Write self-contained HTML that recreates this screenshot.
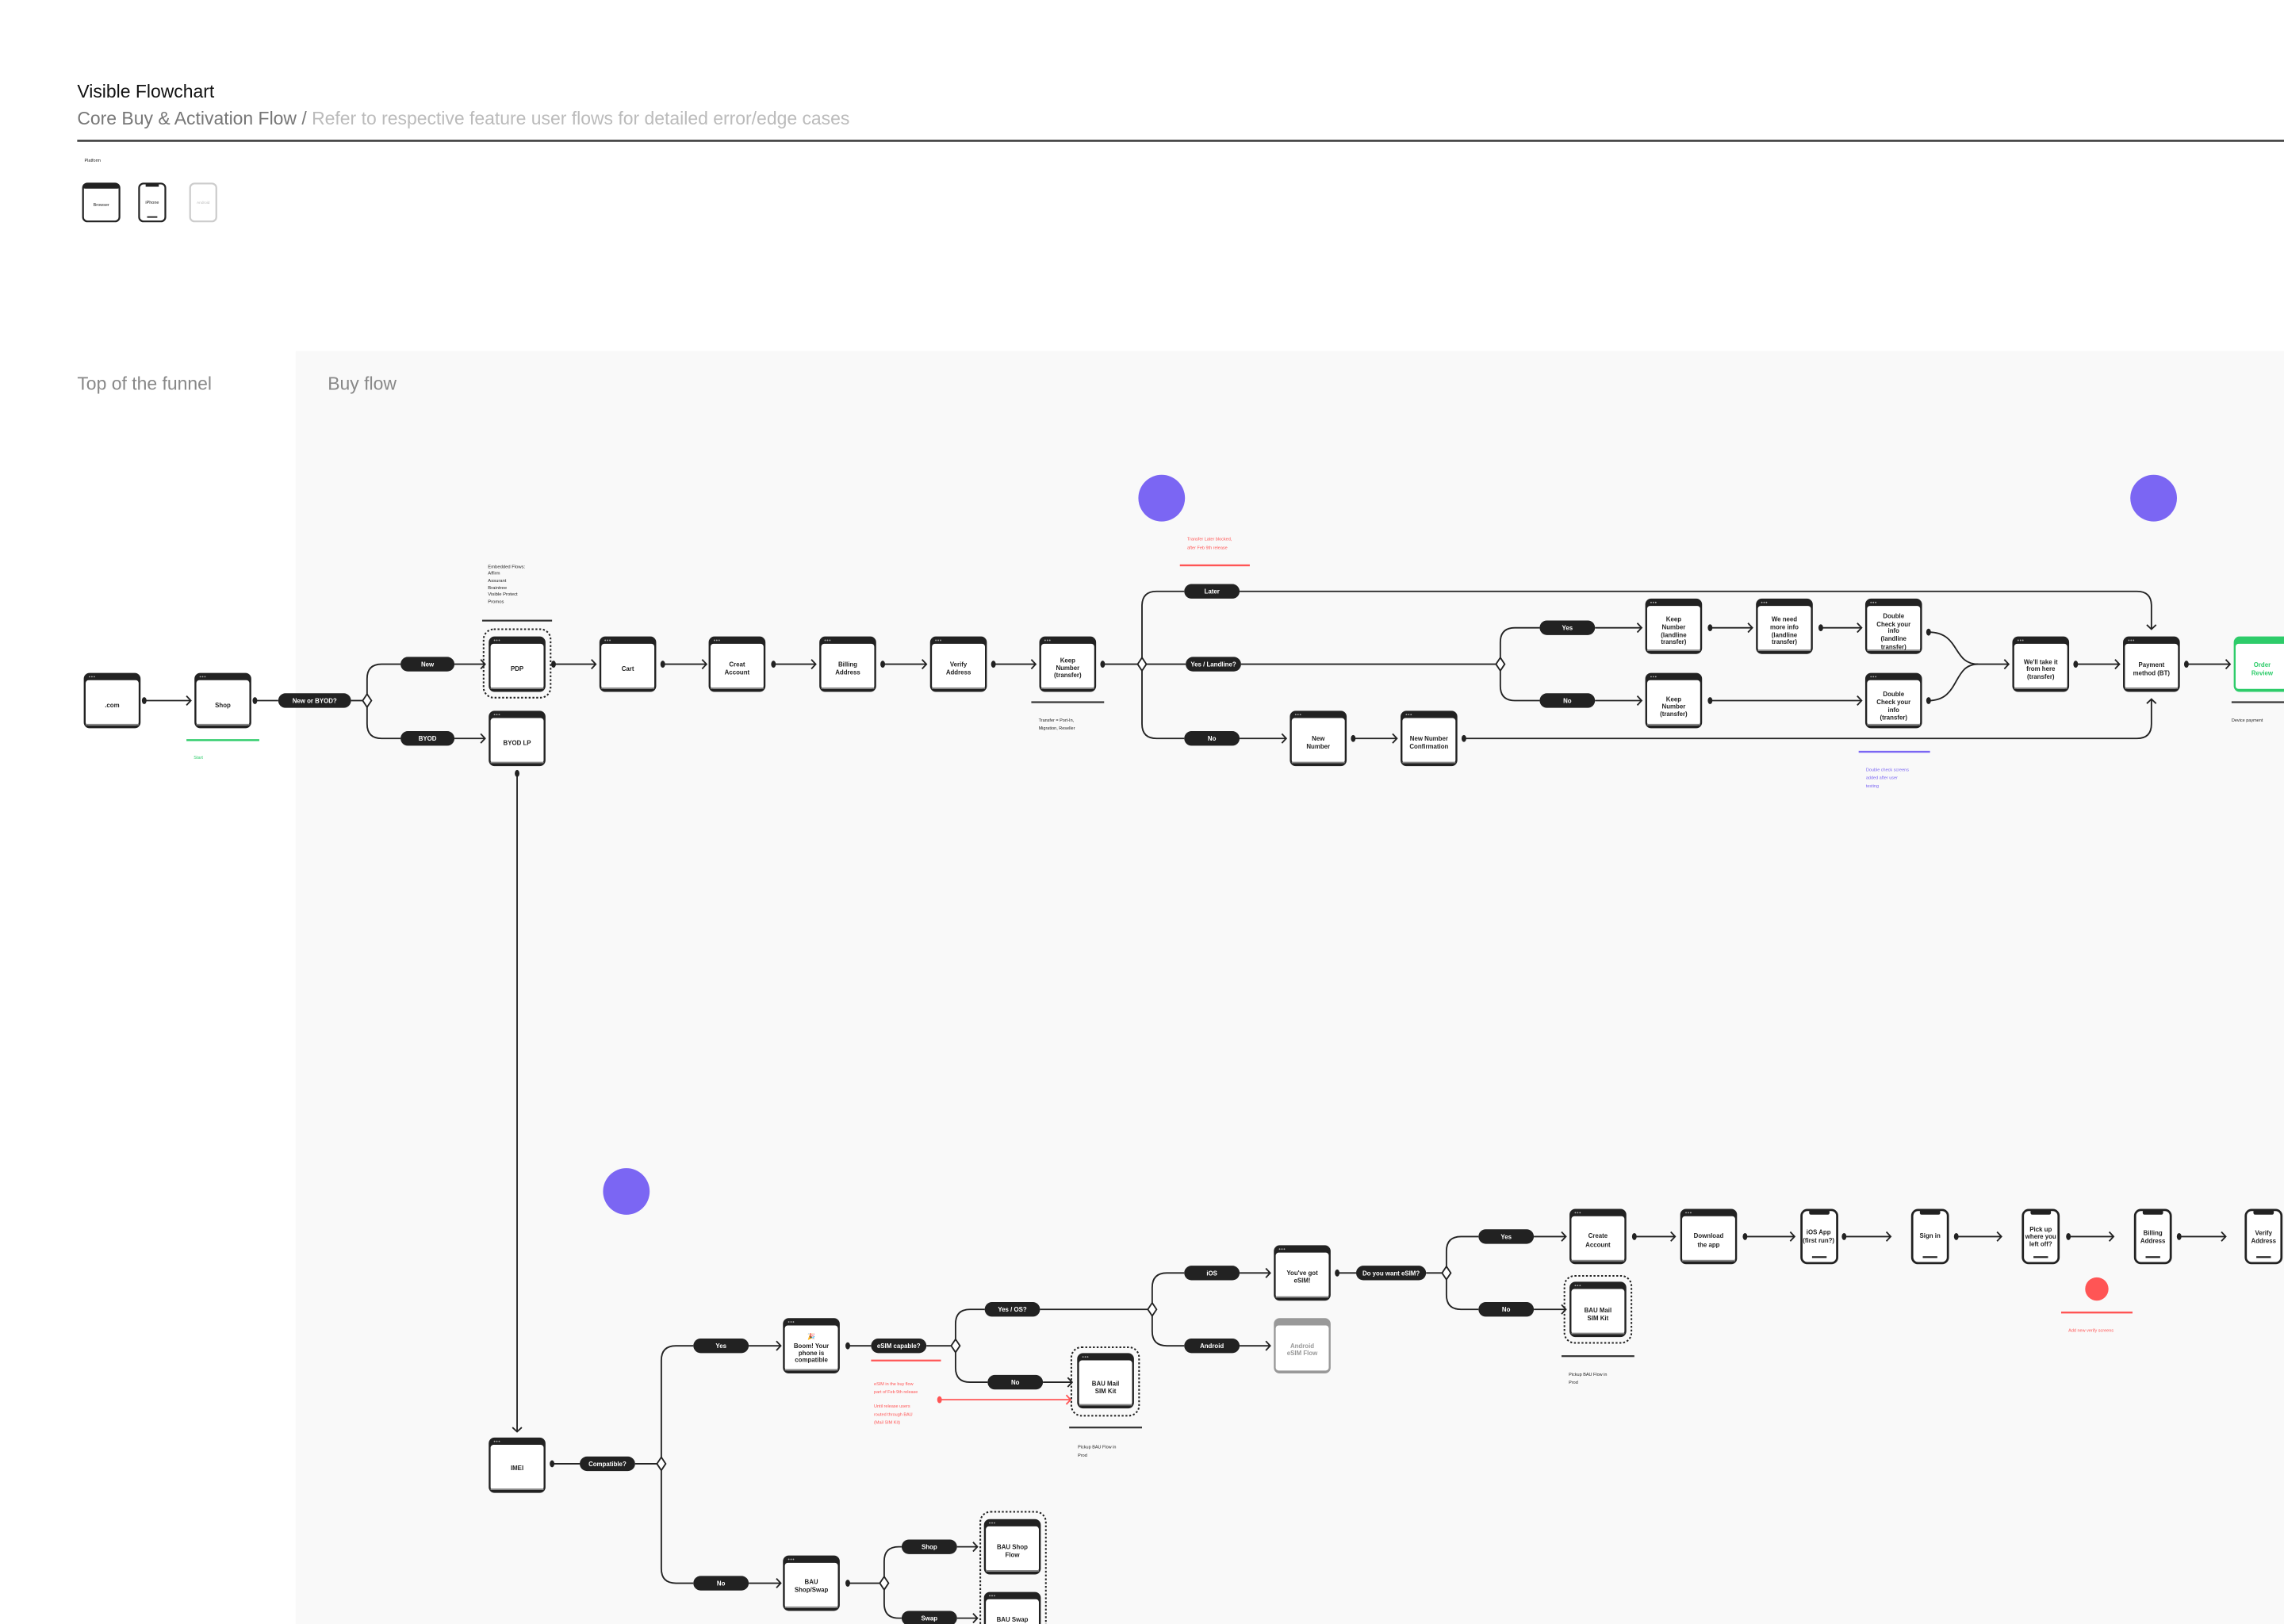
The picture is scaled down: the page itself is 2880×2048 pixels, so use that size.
<!DOCTYPE html>
<html><head><meta charset="utf-8"><style>
html,body{margin:0;padding:0;background:#fff}
svg{display:block}
text{font-family:"Liberation Sans",sans-serif}
.nl{font-size:4.3px;font-weight:700;fill:#222;text-anchor:middle}
.pl{font-size:4.3px;font-weight:700;fill:#fff;text-anchor:middle}
.c{fill:none;stroke:#222;stroke-width:1}
.an{font-size:3.2px;fill:#222}
</style></head><body>
<svg width="2880" height="2048" viewBox="0 0 1568 1115" xmlns="http://www.w3.org/2000/svg">
<defs>
<marker id="ar" markerUnits="userSpaceOnUse" markerWidth="8" markerHeight="8" refX="4" refY="4" orient="auto"><path d="M1,0.8 L4,4 L1,7.2" fill="none" stroke="#222" stroke-width="1"/></marker>
<marker id="arr" markerUnits="userSpaceOnUse" markerWidth="8" markerHeight="8" refX="4" refY="4" orient="auto"><path d="M1,0.8 L4,4 L1,7.2" fill="none" stroke="#f55" stroke-width="1"/></marker>
<marker id="dt" markerUnits="userSpaceOnUse" markerWidth="6" markerHeight="6" refX="3" refY="3"><ellipse cx="3" cy="3" rx="1.6" ry="2.4" fill="#222"/></marker>
<marker id="dtr" markerUnits="userSpaceOnUse" markerWidth="6" markerHeight="6" refX="3" refY="3"><ellipse cx="3" cy="3" rx="1.6" ry="2.4" fill="#f55"/></marker>
<g id="nd"><rect x="0" y="0" width="39" height="38" rx="4" fill="#222"/><rect x="1.3" y="5" width="36.4" height="31" rx="2" fill="#fff"/><rect x="1.3" y="35" width="36.4" height="1" fill="#888"/><circle cx="4" cy="2.6" r="0.5" fill="#aaa"/><circle cx="5.6" cy="2.6" r="0.5" fill="#aaa"/><circle cx="7.2" cy="2.6" r="0.5" fill="#aaa"/></g>
<g id="ph"><rect x="0.75" y="0.75" width="24.5" height="36.5" rx="4" fill="#fff" stroke="#222" stroke-width="1.5"/><rect x="6" y="0.75" width="14" height="3.2" rx="1.2" fill="#222"/><rect x="8" y="32.5" width="10" height="1.2" fill="#222"/></g>
<g id="dm"><path d="M0,-4.5 L3,0 L0,4.5 L-3,0 Z" fill="#fff" stroke="#222" stroke-width="1"/></g>
</defs>
<rect width="1568" height="1115" fill="#fff"/>
<rect x="203" y="241" width="1365" height="874" fill="#f9f9f9"/>

<text x="53" y="67" font-size="12.5" font-weight="500" fill="#111">Visible Flowchart</text>
<text x="53" y="85.5" font-size="12.5" fill="#777">Core Buy &amp; Activation Flow / <tspan fill="#bbb">Refer to respective feature user flows for detailed error/edge cases</tspan></text>
<rect x="53" y="96" width="1515" height="1.3" fill="#333"/>
<text x="58" y="111" font-size="3" fill="#222">Platform</text>
<rect x="57" y="126" width="25" height="26" rx="3" fill="#fff" stroke="#222" stroke-width="1.2"/><rect x="57" y="126" width="25" height="3.5" rx="1.5" fill="#222"/>
<text x="69.5" y="141.5" font-size="3" fill="#222" text-anchor="middle">Browser</text>
<rect x="95.5" y="126" width="18" height="26" rx="3" fill="#fff" stroke="#222" stroke-width="1.2"/><rect x="100" y="126" width="9" height="2.2" fill="#222"/><rect x="101" y="148.5" width="7" height="1" fill="#222"/>
<text x="104.5" y="140" font-size="3" fill="#222" text-anchor="middle">iPhone</text>
<rect x="130.5" y="126" width="18" height="26" rx="3" fill="#fff" stroke="#ccc" stroke-width="1.2"/>
<text x="139.5" y="140" font-size="2.6" fill="#bbb" text-anchor="middle">Android</text>
<text x="53" y="267.5" font-size="12.5" fill="#888">Top of the funnel</text>
<text x="225" y="267.5" font-size="12.5" fill="#888">Buy flow</text>

<circle cx="797.5" cy="342" r="16" fill="#7b66f3"/>
<circle cx="1478.5" cy="342" r="16" fill="#7b66f3"/>
<circle cx="430" cy="818" r="16" fill="#7b66f3"/>
<circle cx="1439.5" cy="885" r="8" fill="#f55"/>

<g class="an" font-size="3"><text x="335" y="390">Embedded Flows:</text><text x="335" y="394.5">Affirm</text><text x="335" y="399.5">Assurant</text><text x="335" y="404.5">Braintree</text><text x="335" y="409">Visible Protect</text><text x="335" y="414">Promos</text></g>
<rect x="331" y="425.5" width="48" height="1.2" fill="#333"/>
<rect x="128" y="507.5" width="50" height="1.3" fill="#2ecc6a"/>
<text x="133" y="521" font-size="3" fill="#2ecc6a">Start</text>
<rect x="708" y="481.5" width="50" height="1.2" fill="#333"/>
<text x="713" y="495.5" font-size="3" fill="#222">Transfer = Port-In,</text><text x="713" y="501" font-size="3" fill="#222">Migration, Reseller</text>
<text x="815" y="371" font-size="3" fill="#f55">Transfer Later blocked,</text><text x="815" y="377" font-size="3" fill="#f55">after Feb 9th release</text>
<rect x="810" y="387.5" width="48" height="1.3" fill="#f55"/>
<rect x="1532" y="481.5" width="36" height="1.2" fill="#333"/>
<text x="1532" y="495.5" font-size="3" fill="#222">Device payment</text>
<rect x="1276" y="515.5" width="49" height="1.3" fill="#7b66f3"/>
<text x="1281" y="529.5" font-size="3" fill="#7b66f3">Double check screens</text><text x="1281" y="535" font-size="3" fill="#7b66f3">added after user</text><text x="1281" y="540.5" font-size="3" fill="#7b66f3">testing</text>
<rect x="598" y="933.5" width="48" height="1.2" fill="#f55"/>
<g font-size="3" fill="#f55"><text x="600" y="951">eSIM in the buy flow</text><text x="600" y="956.5">part of Feb 9th release</text><text x="600" y="966.5">Until release users</text><text x="600" y="972">routed through BAU</text><text x="600" y="977.5">(Mail SIM Kit)</text></g>
<rect x="734" y="979.5" width="50" height="1.2" fill="#333"/>
<text x="740" y="994.5" font-size="3" fill="#222">Pickup BAU Flow in</text><text x="740" y="1000" font-size="3" fill="#222">Prod</text>
<rect x="1072" y="930.5" width="50" height="1.2" fill="#333"/>
<text x="1077" y="944.5" font-size="3" fill="#222">Pickup BAU Flow in</text><text x="1077" y="950" font-size="3" fill="#222">Prod</text>
<rect x="1415" y="900.5" width="49" height="1.3" fill="#f55"/>
<text x="1420" y="914.5" font-size="3" fill="#f55">Add new verify screens</text>

<path class="c" marker-start="url(#dt)" marker-end="url(#ar)" d="M99,481 H131"/>
<path class="c" marker-start="url(#dt)" d="M175,481 H191"/>
<path class="c" d="M241,481 H249"/>
<path class="c" d="M252,477 V466 Q252,456 262,456 H275 M252,485 V497 Q252,507 262,507 H275"/>
<path class="c" marker-end="url(#ar)" d="M312,456 H333"/>
<path class="c" marker-end="url(#ar)" d="M312,507 H333"/>
<path class="c" marker-start="url(#dt)" marker-end="url(#ar)" d="M380,456 H409"/>
<path class="c" marker-start="url(#dt)" marker-end="url(#ar)" d="M455,456 H485"/>
<path class="c" marker-start="url(#dt)" marker-end="url(#ar)" d="M531,456 H560"/>
<path class="c" marker-start="url(#dt)" marker-end="url(#ar)" d="M606,456 H636"/>
<path class="c" marker-start="url(#dt)" marker-end="url(#ar)" d="M682,456 H711"/>
<path class="c" marker-start="url(#dt)" d="M757,456 H781"/>
<path class="c" d="M784,451.5 V416 Q784,406 794,406 H813 M784,460.5 V497 Q784,507 794,507 H813 M787,456 H814"/>
<path class="c" marker-end="url(#ar)" d="M851,406 H1467 Q1477,406 1477,416 V432"/>
<path class="c" d="M852,456 H1027"/>
<path class="c" marker-end="url(#ar)" d="M851,507 H883"/>
<path class="c" marker-start="url(#dt)" marker-end="url(#ar)" d="M929,507 H959"/>
<path class="c" marker-start="url(#dt)" marker-end="url(#ar)" d="M1005,507 H1467 Q1477,507 1477,497 V480"/>
<path class="c" d="M1030,451.5 V441 Q1030,431 1040,431 H1057 M1030,460.5 V471 Q1030,481 1040,481 H1057"/>
<path class="c" marker-end="url(#ar)" d="M1095,431 H1127"/>
<path class="c" marker-end="url(#ar)" d="M1095,481 H1127"/>
<path class="c" marker-start="url(#dt)" marker-end="url(#ar)" d="M1174,431 H1203"/>
<path class="c" marker-start="url(#dt)" marker-end="url(#ar)" d="M1250,431 H1278"/>
<path class="c" marker-start="url(#dt)" marker-end="url(#ar)" d="M1174,481 H1278"/>
<path class="c" marker-start="url(#dt)" d="M1324,434 C1346,434 1340,456 1358,456"/>
<path class="c" marker-start="url(#dt)" d="M1324,481 C1346,481 1340,456 1358,456"/>
<path class="c" marker-end="url(#ar)" d="M1356,456 H1379"/>
<path class="c" marker-start="url(#dt)" marker-end="url(#ar)" d="M1425,456 H1455"/>
<path class="c" marker-start="url(#dt)" marker-end="url(#ar)" d="M1501,456 H1531"/>

<path class="c" marker-start="url(#dt)" marker-end="url(#ar)" d="M355,531 V983"/>
<path class="c" marker-start="url(#dt)" d="M379,1005 H398"/>
<path class="c" d="M436,1005 H451 M454,1000.5 V934 Q454,924 464,924 H476 M454,1009.5 V1077 Q454,1087 464,1087 H476"/>
<path class="c" marker-end="url(#ar)" d="M514,924 H536"/>
<path class="c" marker-end="url(#ar)" d="M514,1087 H536"/>
<path class="c" marker-start="url(#dt)" d="M582,924 H598"/>
<path class="c" d="M636,924 H653 M656,919.5 V909 Q656,899 666,899 H676 M656,928.5 V939 Q656,949 666,949 H678"/>
<path class="c" marker-end="url(#ar)" d="M716,949 H736"/>
<path fill="none" stroke="#f55" stroke-width="1" marker-start="url(#dtr)" marker-end="url(#arr)" d="M645,961 H735"/>
<path class="c" d="M714,899 H788 M791,894.5 V884 Q791,874 801,874 H813 M791,903.5 V914 Q791,924 801,924 H813"/>
<path class="c" marker-end="url(#ar)" d="M851,874 H872"/>
<path class="c" marker-end="url(#ar)" d="M851,924 H872"/>
<path class="c" marker-start="url(#dt)" d="M918,874 H931"/>
<path class="c" d="M979,874 H990 M993,869.5 V859 Q993,849 1003,849 H1015 M993,878.5 V889 Q993,899 1003,899 H1015"/>
<path class="c" marker-end="url(#ar)" d="M1053,849 H1075"/>
<path class="c" marker-end="url(#ar)" d="M1053,899 H1075"/>
<path class="c" marker-start="url(#dt)" marker-end="url(#ar)" d="M1122,849 H1150"/>
<path class="c" marker-start="url(#dt)" marker-end="url(#ar)" d="M1198,849 H1232"/>
<path class="c" marker-start="url(#dt)" marker-end="url(#ar)" d="M1266,849 H1298"/>
<path class="c" marker-start="url(#dt)" marker-end="url(#ar)" d="M1343,849 H1374"/>
<path class="c" marker-start="url(#dt)" marker-end="url(#ar)" d="M1420,849 H1451"/>
<path class="c" marker-start="url(#dt)" marker-end="url(#ar)" d="M1496,849 H1528"/>
<path class="c" marker-start="url(#dt)" d="M582,1087 H604"/>
<path class="c" d="M607,1082.5 V1072 Q607,1062 617,1062 H619 M607,1091.5 V1101 Q607,1111 617,1111 H619"/>
<path class="c" marker-end="url(#ar)" d="M657,1062 H671"/>
<path class="c" marker-end="url(#ar)" d="M657,1111 H671"/>

<use href="#dm" x="252" y="481"/><use href="#dm" x="784" y="456"/><use href="#dm" x="1030" y="456"/>
<use href="#dm" x="454" y="1005"/><use href="#dm" x="656" y="924"/><use href="#dm" x="791" y="899"/><use href="#dm" x="993" y="874"/><use href="#dm" x="607" y="1087"/>

<g fill="none" stroke="#222" stroke-width="1.1" stroke-dasharray="1.3 1.3">
<rect x="332" y="432" width="46" height="47" rx="7"/>
<rect x="735.5" y="925" width="46.5" height="47" rx="7"/>
<rect x="1074" y="876" width="46" height="46" rx="7"/>
<rect x="673" y="1038" width="45" height="90" rx="7"/>
</g>

<g fill="#222">
<rect x="191" y="476" width="50" height="10" rx="5"/>
<rect x="275" y="451" width="37" height="10" rx="5"/><rect x="275" y="502" width="37" height="10" rx="5"/>
<rect x="813" y="401" width="38" height="10" rx="5"/><rect x="814" y="451" width="38" height="10" rx="5"/><rect x="813" y="502" width="38" height="10" rx="5"/>
<rect x="1057" y="426" width="38" height="10" rx="5"/><rect x="1057" y="476" width="38" height="10" rx="5"/>
<rect x="398" y="1000" width="38" height="10" rx="5"/>
<rect x="476" y="919" width="38" height="10" rx="5"/><rect x="476" y="1082" width="38" height="10" rx="5"/>
<rect x="598" y="919" width="38" height="10" rx="5"/>
<rect x="676" y="894" width="38" height="10" rx="5"/><rect x="678" y="944" width="38" height="10" rx="5"/>
<rect x="813" y="869" width="38" height="10" rx="5"/><rect x="813" y="919" width="38" height="10" rx="5"/>
<rect x="931" y="869" width="48" height="10" rx="5"/>
<rect x="1015" y="844" width="38" height="10" rx="5"/><rect x="1015" y="894" width="38" height="10" rx="5"/>
<rect x="619" y="1057" width="38" height="10" rx="5"/><rect x="619" y="1106" width="38" height="10" rx="5"/>
</g>
<g class="pl">
<text x="216" y="482.6">New or BYOD?</text>
<text x="293.5" y="457.6">New</text><text x="293.5" y="508.6">BYOD</text>
<text x="832" y="407.6">Later</text><text x="833" y="457.6">Yes / Landline?</text><text x="832" y="508.6">No</text>
<text x="1076" y="432.6">Yes</text><text x="1076" y="482.6">No</text>
<text x="417" y="1006.6">Compatible?</text>
<text x="495" y="925.6">Yes</text><text x="495" y="1088.6">No</text>
<text x="617" y="925.6">eSIM capable?</text>
<text x="695" y="900.6">Yes / OS?</text><text x="697" y="950.6">No</text>
<text x="832" y="875.6">iOS</text><text x="832" y="925.6">Android</text>
<text x="955" y="875.6">Do you want eSIM?</text>
<text x="1034" y="850.6">Yes</text><text x="1034" y="900.6">No</text>
<text x="638" y="1063.6">Shop</text><text x="638" y="1112.6">Swap</text>
</g>

<use href="#nd" x="57.5" y="462"/><use href="#nd" x="133.5" y="462"/>
<use href="#nd" x="335.5" y="437"/><use href="#nd" x="335.5" y="488"/>
<use href="#nd" x="411.5" y="437"/><use href="#nd" x="486.5" y="437"/><use href="#nd" x="562.5" y="437"/><use href="#nd" x="638.5" y="437"/><use href="#nd" x="713.5" y="437"/>
<use href="#nd" x="885.5" y="488"/><use href="#nd" x="961.5" y="488"/>
<use href="#nd" x="1129.5" y="411"/><use href="#nd" x="1205.5" y="411"/><use href="#nd" x="1280.5" y="411"/>
<use href="#nd" x="1129.5" y="462"/><use href="#nd" x="1280.5" y="462"/>
<use href="#nd" x="1381.5" y="437"/><use href="#nd" x="1457.5" y="437"/>
<g><rect x="1533.5" y="437" width="39" height="38" rx="4" fill="#2ecc6a"/><rect x="1534.8" y="442" width="36.4" height="31" rx="2" fill="#fff"/></g>
<use href="#nd" x="335.5" y="987"/>
<use href="#nd" x="537.5" y="905"/><use href="#nd" x="739.5" y="929"/>
<use href="#nd" x="874.5" y="855"/>
<g><rect x="874.5" y="905" width="39" height="38" rx="4" fill="#999"/><rect x="875.8" y="910" width="36.4" height="31" rx="2" fill="#fff"/></g>
<use href="#nd" x="1077.5" y="830"/><use href="#nd" x="1153.5" y="830"/><use href="#nd" x="1077.5" y="880"/>
<use href="#ph" x="1236" y="830"/><use href="#ph" x="1312" y="830"/><use href="#ph" x="1388" y="830"/><use href="#ph" x="1465" y="830"/><use href="#ph" x="1541" y="830"/>
<use href="#nd" x="537.5" y="1068"/><use href="#nd" x="675.5" y="1043"/><use href="#nd" x="675.5" y="1093"/>

<g class="nl">
<text x="77" y="485.5">.com</text><text x="153" y="485.5">Shop</text>
<text x="355" y="460.5">PDP</text><text x="355" y="511.5">BYOD LP</text>
<text x="431" y="460.5">Cart</text>
<text x="506" y="457.5">Creat</text><text x="506" y="463">Account</text>
<text x="582" y="457.5">Billing</text><text x="582" y="463">Address</text>
<text x="658" y="457.5">Verify</text><text x="658" y="463">Address</text>
<text x="733" y="455">Keep</text><text x="733" y="460">Number</text><text x="733" y="465">(transfer)</text>
<text x="905" y="508.5">New</text><text x="905" y="514">Number</text>
<text x="981" y="508.5">New Number</text><text x="981" y="514">Confirmation</text>
<text x="1149" y="426.5">Keep</text><text x="1149" y="432">Number</text><text x="1149" y="437.5">(landline</text><text x="1149" y="442">transfer)</text>
<text x="1225" y="426.5">We need</text><text x="1225" y="432">more info</text><text x="1225" y="437.5">(landline</text><text x="1225" y="442">transfer)</text>
<text x="1300" y="424.5">Double</text><text x="1300" y="430">Check your</text><text x="1300" y="434.5">info</text><text x="1300" y="440">(landline</text><text x="1300" y="445.5">transfer)</text>
<text x="1149" y="481.5">Keep</text><text x="1149" y="486.5">Number</text><text x="1149" y="491.5">(transfer)</text>
<text x="1300" y="478">Double</text><text x="1300" y="483.5">Check your</text><text x="1300" y="489">info</text><text x="1300" y="494">(transfer)</text>
<text x="1401" y="456">We'll take it</text><text x="1401" y="460.5">from here</text><text x="1401" y="466">(transfer)</text>
<text x="1477" y="458">Payment</text><text x="1477" y="463.5">method (BT)</text>
<text x="1553" y="458" fill="#2ecc6a">Order</text><text x="1553" y="463.5" fill="#2ecc6a">Review</text>
<text x="355" y="1009.5">IMEI</text>
<text x="557" y="919" fill="#e8a040">🎉</text>
<text x="557" y="925.5">Boom! Your</text><text x="557" y="930.5">phone is</text><text x="557" y="935">compatible</text>
<text x="759" y="951.5">BAU Mail</text><text x="759" y="956.5">SIM Kit</text>
<text x="894" y="875.5">You've got</text><text x="894" y="880.5">eSIM!</text>
<text x="894" y="925.5" fill="#999">Android</text><text x="894" y="930.5" fill="#999">eSIM Flow</text>
<text x="1097" y="850">Create</text><text x="1097" y="856">Account</text>
<text x="1173" y="850">Download</text><text x="1173" y="856">the app</text>
<text x="1248.5" y="847.5">iOS App</text><text x="1248.5" y="853">(first run?)</text>
<text x="1325" y="850">Sign in</text>
<text x="1401" y="845.5">Pick up</text><text x="1401" y="850.5">where you</text><text x="1401" y="855.5">left off?</text>
<text x="1478" y="848">Billing</text><text x="1478" y="853.5">Address</text>
<text x="1554" y="848">Verify</text><text x="1554" y="853.5">Address</text>
<text x="1097" y="901">BAU Mail</text><text x="1097" y="906.5">SIM Kit</text>
<text x="557" y="1087.5">BAU</text><text x="557" y="1093">Shop/Swap</text>
<text x="695" y="1063.5">BAU Shop</text><text x="695" y="1069">Flow</text>
<text x="695" y="1113.5">BAU Swap</text>
</g>
</svg>
</body></html>
